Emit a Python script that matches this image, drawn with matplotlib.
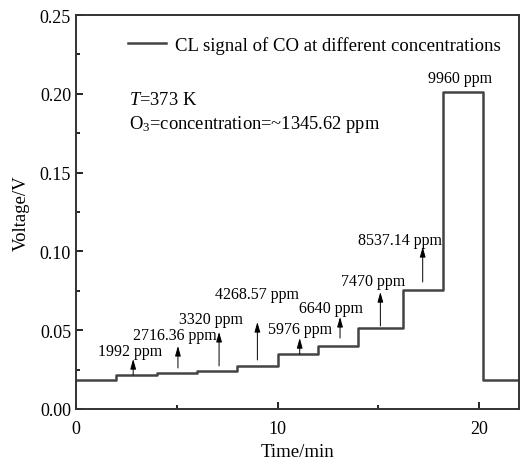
import matplotlib
matplotlib.use("Agg")
import matplotlib.pyplot as plt
from matplotlib.ticker import MultipleLocator

# Step signal: change times (min) and voltage level after each change
step_times = [0, 2, 4, 6, 8, 10, 12, 14, 16.2, 18.2, 20.2, 22]
step_levels = [0.0185, 0.0216, 0.0226, 0.0240, 0.0270, 0.0350, 0.0400,
               0.0512, 0.0757, 0.2010, 0.0185, 0.0185]

# Concentration labels with arrows
conc_labels = ["1992 ppm", "2716.36 ppm", "3320 ppm", "4268.57 ppm", "5976 ppm",
               "6640 ppm", "7470 ppm", "8537.14 ppm"]
arrow_x = [2.84, 5.06, 7.1, 9.0, 11.1, 13.1, 15.1, 17.2]
arrow_bottom = [0.0216, 0.026, 0.0273, 0.0311, 0.0349, 0.045, 0.0527, 0.0806]
arrow_top = [0.0317, 0.040, 0.0489, 0.0552, 0.045, 0.0584, 0.0742, 0.1028]
label_x = [2.69, 4.93, 6.72, 9.0, 11.1, 12.64, 14.73, 16.07]
label_y = [0.0368, 0.047, 0.0571, 0.073, 0.0508, 0.0641, 0.0812, 0.1074]

plt.rcParams['font.family'] = ['Liberation Serif', 'DejaVu Serif']
plt.rcParams['mathtext.fontset'] = 'custom'
plt.rcParams['mathtext.rm'] = 'Liberation Serif'
plt.rcParams['mathtext.it'] = 'Liberation Serif:italic'

fig = plt.figure(figsize=(5.2, 4.64), dpi=100)
ax = fig.add_axes([0.146, 0.1164, 0.853, 0.8491])

ax.step(step_times, step_levels, where='post', color='#444444', lw=1.8,
        label='CL signal of CO at different concentrations')

# arrows and labels
for i in range(len(conc_labels)):
    ax.annotate('', xy=(arrow_x[i], arrow_top[i]), xytext=(arrow_x[i], arrow_bottom[i]),
                arrowprops=dict(arrowstyle='-|>,head_length=0.6,head_width=0.17',
                                color='black', lw=0.7, shrinkA=0, shrinkB=0))
    ax.text(label_x[i], label_y[i], conc_labels[i], ha='center', va='center', fontsize=11.5)

ax.text(19.05, 0.21, "9960 ppm", ha='center', va='center', fontsize=11.5)

ax.text(2.65, 0.1967, "$T$=373 K", fontsize=13.3, va='center')
ax.text(2.65, 0.181, "O$_3$=concentration=~1345.62 ppm", fontsize=13.3, va='center')

ax.legend(loc='upper left', bbox_to_anchor=(0.08, 0.99), frameon=False, fontsize=13.5,
          handlelength=2.0, handletextpad=0.5)

ax.set_xlim(0, 22)
ax.set_ylim(0, 0.25)
ax.xaxis.set_major_locator(MultipleLocator(10))
ax.xaxis.set_minor_locator(MultipleLocator(5))
ax.yaxis.set_major_locator(MultipleLocator(0.05))
ax.yaxis.set_minor_locator(MultipleLocator(0.025))
ax.yaxis.set_major_formatter(matplotlib.ticker.FormatStrFormatter('%.2f'))
ax.tick_params(which='both', direction='in', labelsize=13, width=1.2)
ax.tick_params(axis='x', pad=8)
ax.tick_params(which='major', length=5)
ax.tick_params(which='minor', length=3)
for s in ax.spines.values():
    s.set_linewidth(1.4)
    s.set_color('#333333')

ax.set_xlabel("Time/min", fontsize=13.5, labelpad=4)
ax.set_ylabel("Voltage/V", fontsize=13.5, labelpad=7)

fig.savefig("out.png", dpi=100)
